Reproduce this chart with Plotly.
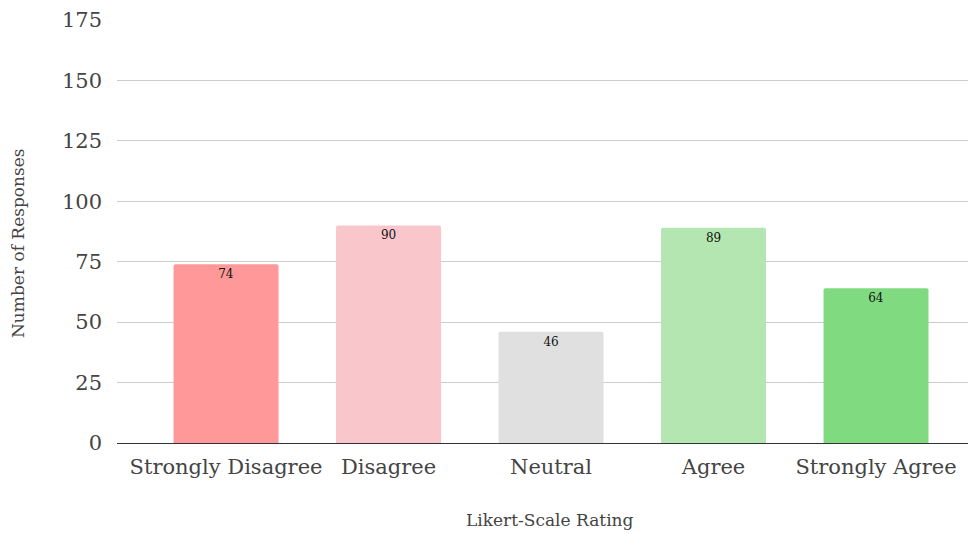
import plotly.graph_objects as go

categories = ["Strongly Disagree", "Disagree", "Neutral", "Agree", "Strongly Agree"]
responses = [74, 90, 46, 89, 64]
bar_colors = ["#FF9999", "#F9C6CC", "#E0E0E0", "#B3E6B0", "#80DB80"]
y_ticks = [0, 25, 50, 75, 100, 125, 150, 175]

FONT = "DejaVu Serif"
W, H = 969, 534
ML, MR, MT, MB = 117, 1, 20, 91

fig = go.Figure(go.Bar(
    x=list(range(len(categories))),
    y=responses,
    marker=dict(color=bar_colors, line=dict(width=0), cornerradius=2),
    text=[str(v) for v in responses],
    textposition="inside",
    insidetextanchor="end",
    textangle=0,
    textfont=dict(family=FONT, size=12, color="#111111"),
    width=0.646,
))

fig.update_layout(
    width=W, height=H,
    margin=dict(l=ML, r=MR, t=MT, b=MB),
    paper_bgcolor="white", plot_bgcolor="white",
    showlegend=False,
    font=dict(family=FONT, color="#444444"),
    xaxis=dict(
        range=[-0.671, 4.566],
        tickmode="array",
        tickvals=list(range(len(categories))),
        ticktext=categories,
        tickfont=dict(size=21, color="#444444"),
        showgrid=False, zeroline=False, showline=False,
        ticks="", ticklabelstandoff=9,
    ),
    yaxis=dict(
        range=[0, 175],
        tickmode="array",
        tickvals=y_ticks,
        tickfont=dict(size=21, color="#444444"),
        showgrid=True, gridcolor="#CCCCCC", gridwidth=1,
        zeroline=True, zerolinecolor="#333333", zerolinewidth=1,
        ticks="", ticklabelstandoff=14,
    ),
    annotations=[
        dict(text="Likert-Scale Rating", xref="paper", yref="paper",
             x=(550 - ML) / (W - ML - MR), y=-(520 - (H - MB)) / (H - MT - MB),
             xanchor="center", yanchor="middle", showarrow=False,
             font=dict(size=17, color="#444444")),
        dict(text="Number of Responses", xref="paper", yref="paper",
             x=-(ML - 18) / (W - ML - MR), y=((H - MB) - 243) / (H - MT - MB),
             xanchor="center", yanchor="middle", textangle=-90, showarrow=False,
             font=dict(size=17, color="#444444")),
    ],
)

fig.write_html("out.html")
